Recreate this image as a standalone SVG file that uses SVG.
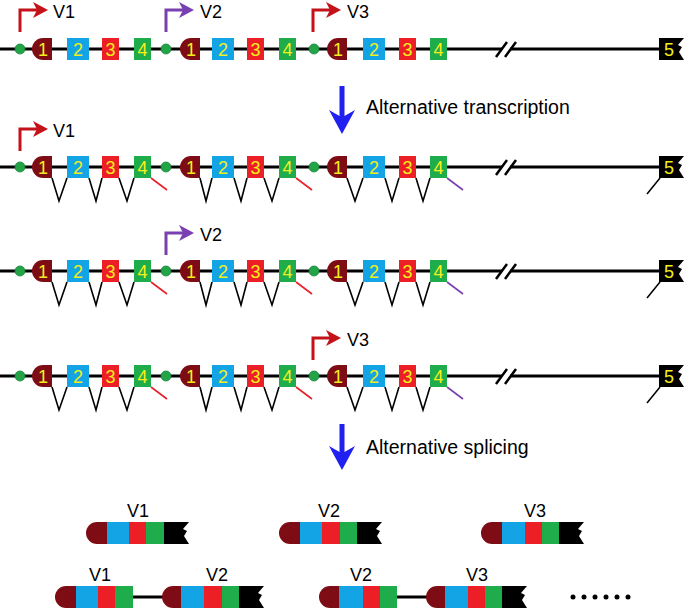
<svg xmlns="http://www.w3.org/2000/svg" xmlns:xlink="http://www.w3.org/1999/xlink" width="685" height="609" viewBox="0 0 685 609">
<style>
.dna{stroke:#000;stroke-width:3.2;fill:none}
.sl{stroke:#000;stroke-width:2.5;fill:none}
.sp{stroke:#000;stroke-width:1.6;fill:none}
.dr{stroke:#e8202a;stroke-width:1.6;fill:none}
.dp{stroke:#7a3fb0;stroke-width:1.6;fill:none}
.dk{stroke:#000;stroke-width:1.6;fill:none}
.e1{fill:#7d0c14}
.eb{fill:#12a4e4}
.er{fill:#ec1f27}
.eg{fill:#1fad4b}
.ek{fill:#000}
.dot{fill:#23a447;stroke:#17843a;stroke-width:0.8}
.num{font-family:"Liberation Sans",Arial,sans-serif;font-size:18px;fill:#f3ef1c;text-anchor:middle}
.lbl{font-family:"Liberation Sans",Arial,sans-serif;font-size:18px;fill:#000}
.alt{font-family:"Liberation Sans",Arial,sans-serif;font-size:19.5px;fill:#000}
.lblc{font-family:"Liberation Sans",Arial,sans-serif;font-size:18px;fill:#000;text-anchor:middle}
.pr{stroke:#c4121a;stroke-width:3;fill:none}
.pp{stroke:#7a3fb0;stroke-width:3;fill:none}
.hr{fill:#c4121a}
.hp{fill:#7a3fb0}
.ba{fill:#2020f0}
.link{stroke:#000;stroke-width:3}
</style>
<defs>
<path id="ex1" d="M11,0 H20 V22 H11 A11,11 0 0 1 11,0 Z"/>
<path id="ex1b" d="M11,0 H21 V22 H11 A11,11 0 0 1 11,0 Z"/>
<path id="ex5" d="M0,0 H25 L19,7 L23,9 L20,14 L25,22 H0 Z"/>
<rect id="exB" width="22" height="22"/>
<rect id="exR" width="17" height="22"/>
<rect id="exG" width="17" height="22"/>
<g id="arrR"><path class="pr" d="M0,22 V0 H20"/><polygon class="hr" points="13,-8 28,0 13,8 17,0"/></g>
<g id="arrP"><path class="pp" d="M0,22 V0 H20"/><polygon class="hp" points="13,-8 28,0 13,8 17,0"/></g>
<g id="gene">
<path class="dna" d="M0,0 H502 M510,0 H662"/>
<path class="sl" d="M496,8 L507,-7 M505,8 L516,-7"/>
<circle class="dot" cx="20" cy="0" r="5"/>
<use href="#ex1" class="e1" x="32" y="-11"/>
<use href="#exB" class="eb" x="67" y="-11"/>
<use href="#exR" class="er" x="102" y="-11"/>
<use href="#exG" class="eg" x="134" y="-11"/>
<circle class="dot" cx="166" cy="0" r="5"/>
<use href="#ex1" class="e1" x="180" y="-11"/>
<use href="#exB" class="eb" x="212" y="-11"/>
<use href="#exR" class="er" x="247" y="-11"/>
<use href="#exG" class="eg" x="279" y="-11"/>
<circle class="dot" cx="314" cy="0" r="5"/>
<use href="#ex1" class="e1" x="327" y="-11"/>
<use href="#exB" class="eb" x="363" y="-11"/>
<use href="#exR" class="er" x="399" y="-11"/>
<use href="#exG" class="eg" x="430" y="-11"/>
<use href="#ex5" class="ek" x="659" y="-11"/>
<text class="num" x="43" y="6.5">1</text>
<text class="num" x="78" y="6.5">2</text>
<text class="num" x="110.5" y="6.5">3</text>
<text class="num" x="142.5" y="6.5">4</text>
<text class="num" x="191" y="6.5">1</text>
<text class="num" x="223" y="6.5">2</text>
<text class="num" x="255.5" y="6.5">3</text>
<text class="num" x="287.5" y="6.5">4</text>
<text class="num" x="338" y="6.5">1</text>
<text class="num" x="374" y="6.5">2</text>
<text class="num" x="407.5" y="6.5">3</text>
<text class="num" x="438.5" y="6.5">4</text>
<text class="num" x="669" y="6.5">5</text>
</g>
<g id="splice">
<path class="sp" d="M52,11 L59,34 L67,11 M89,11 L96,34 L102,11 M119,11 L127,34 L134,11"/>
<path class="sp" d="M200,11 L206,34 L212,11 M234,11 L241,34 L247,11 M264,11 L272,34 L279,11"/>
<path class="sp" d="M347,11 L355,34 L363,11 M385,11 L392,34 L399,11 M416,11 L423,34 L430,11"/>
<path class="dr" d="M151,11 L167,23 M296,11 L312,23"/>
<path class="dp" d="M447,11 L463,23"/>
<path class="dk" d="M660,11 L647,27"/>
</g>
</defs>

<g id="row1">
<use href="#gene" y="49"/>
<g id="row1-p1"><use href="#arrR" x="20" y="10"/><text class="lbl" x="53" y="18">V1</text></g>
<g id="row1-p2"><use href="#arrP" x="166" y="10"/><text class="lbl" x="200" y="18">V2</text></g>
<g id="row1-p3"><use href="#arrR" x="313" y="10"/><text class="lbl" x="347" y="18">V3</text></g>
</g>

<g id="step1">
<path class="ba" d="M339.5,86 H344.5 V116 L355,110 L342,134 L329,110 L339.5,116 Z"/>
<text class="alt" x="366" y="114">Alternative transcription</text>
</g>

<g id="row2">
<use href="#gene" y="167"/>
<use href="#splice" y="167"/>
<g id="row2-p1"><use href="#arrR" x="20" y="129"/><text class="lbl" x="53" y="137">V1</text></g>
</g>

<g id="row3">
<use href="#gene" y="271"/>
<use href="#splice" y="271"/>
<g id="row3-p2"><use href="#arrP" x="166" y="233"/><text class="lbl" x="200" y="241">V2</text></g>
</g>

<g id="row4">
<use href="#gene" y="376"/>
<use href="#splice" y="376"/>
<g id="row4-p3"><use href="#arrR" x="313" y="338"/><text class="lbl" x="347" y="346">V3</text></g>
</g>

<g id="step2">
<path class="ba" d="M339.5,424 H344.5 V452 L355,446 L342,470 L329,446 L339.5,452 Z"/>
<text class="alt" x="366" y="454">Alternative splicing</text>
</g>

<g id="tV1">
<text class="lblc" x="138" y="517">V1</text>
<use href="#ex1b" class="e1" x="86" y="522"/>
<rect class="eb" x="107" y="522" width="22" height="22"/>
<rect class="er" x="129" y="522" width="17" height="22"/>
<rect class="eg" x="146" y="522" width="18" height="22"/>
<use href="#ex5" class="ek" x="164" y="522"/>
</g>
<g id="tV2">
<text class="lblc" x="329" y="517">V2</text>
<use href="#ex1b" class="e1" x="279" y="522"/>
<rect class="eb" x="300" y="522" width="22" height="22"/>
<rect class="er" x="322" y="522" width="18" height="22"/>
<rect class="eg" x="340" y="522" width="17" height="22"/>
<use href="#ex5" class="ek" x="357" y="522"/>
</g>
<g id="tV3">
<text class="lblc" x="535" y="517">V3</text>
<use href="#ex1b" class="e1" x="481" y="522"/>
<rect class="eb" x="502" y="522" width="23" height="22"/>
<rect class="er" x="525" y="522" width="17" height="22"/>
<rect class="eg" x="542" y="522" width="17" height="22"/>
<use href="#ex5" class="ek" x="559" y="522"/>
</g>
<g id="tV1V2">
<text class="lblc" x="100" y="581">V1</text>
<text class="lblc" x="217" y="581">V2</text>
<line class="link" x1="133" y1="597" x2="165" y2="597"/>
<use href="#ex1b" class="e1" x="55" y="586"/>
<rect class="eb" x="76" y="586" width="22" height="22"/>
<rect class="er" x="98" y="586" width="17" height="22"/>
<rect class="eg" x="115" y="586" width="18" height="22"/>
<use href="#ex1" class="e1" x="162" y="586"/>
<rect class="eb" x="181" y="586" width="23" height="22"/>
<rect class="er" x="204" y="586" width="18" height="22"/>
<rect class="eg" x="222" y="586" width="17" height="22"/>
<use href="#ex5" class="ek" x="239" y="586"/>
</g>
<g id="tV2V3">
<text class="lblc" x="361" y="581">V2</text>
<text class="lblc" x="477" y="581">V3</text>
<line class="link" x1="397" y1="597" x2="429" y2="597"/>
<use href="#ex1b" class="e1" x="319" y="586"/>
<rect class="eb" x="339" y="586" width="24" height="22"/>
<rect class="er" x="363" y="586" width="17" height="22"/>
<rect class="eg" x="380" y="586" width="17" height="22"/>
<use href="#ex1" class="e1" x="426" y="586"/>
<rect class="eb" x="445" y="586" width="23" height="22"/>
<rect class="er" x="468" y="586" width="17" height="22"/>
<rect class="eg" x="485" y="586" width="17" height="22"/>
<use href="#ex5" class="ek" x="502" y="586"/>
</g>
<g id="ellipsis" fill="#000">
<circle cx="573" cy="597" r="2.5"/><circle cx="584" cy="597" r="2.5"/><circle cx="595" cy="597" r="2.5"/><circle cx="606" cy="597" r="2.5"/><circle cx="617" cy="597" r="2.5"/><circle cx="628" cy="597" r="2.5"/>
</g>
</svg>
